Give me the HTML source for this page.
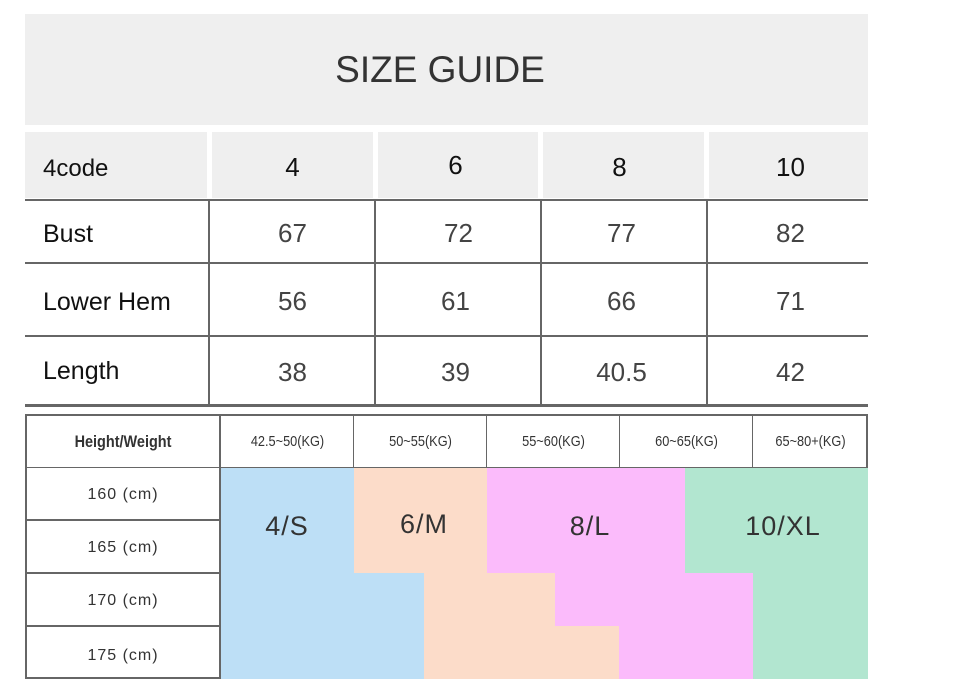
<!DOCTYPE html><html><head><style>
body{margin:0;width:954px;height:694px;background:#fff;position:relative;overflow:hidden;font-family:"Liberation Sans",sans-serif;color:#222}
div{position:absolute;box-sizing:border-box}
.t{text-align:center;white-space:nowrap}
.h{background:#efefef}
.l{background:#666}
.c{transform:scaleX(0.85)}
</style></head><body>
<div class="h" style="left:25px;top:14px;width:843px;height:111px"></div>
<div class="t" style="left:25px;top:14px;width:830px;height:111px;line-height:111px;font-size:37px;color:#333">SIZE GUIDE</div>
<div class="h" style="left:25px;top:132px;width:182px;height:66px"></div>
<div class="h" style="left:212px;top:132px;width:161px;height:66px"></div>
<div class="h" style="left:378px;top:132px;width:160px;height:66px"></div>
<div class="h" style="left:543px;top:132px;width:161px;height:66px"></div>
<div class="h" style="left:709px;top:132px;width:159px;height:66px"></div>
<div class="l" style="left:25px;top:199px;width:843px;height:2px"></div>
<div class="l" style="left:25px;top:262px;width:843px;height:2px"></div>
<div class="l" style="left:25px;top:335px;width:843px;height:2px"></div>
<div class="l" style="left:25px;top:404px;width:843px;height:3px"></div>
<div class="l" style="left:208px;top:200px;width:2px;height:205px"></div>
<div class="l" style="left:374px;top:200px;width:2px;height:205px"></div>
<div class="l" style="left:540px;top:200px;width:2px;height:205px"></div>
<div class="l" style="left:706px;top:200px;width:2px;height:205px"></div>
<div style="left:43px;top:155px;font-size:24px;color:#111">4code</div>
<div style="left:43px;top:220px;font-size:25px;color:#111">Bust</div>
<div style="left:43px;top:288px;font-size:25px;color:#111">Lower Hem</div>
<div style="left:43px;top:357px;font-size:25px;color:#111">Length</div>
<div class="t" style="left:210px;top:152px;width:165px;font-size:26px;color:#111">4</div>
<div class="t" style="left:373px;top:150px;width:165px;font-size:26px;color:#111">6</div>
<div class="t" style="left:537px;top:152px;width:165px;font-size:26px;color:#111">8</div>
<div class="t" style="left:708px;top:152px;width:165px;font-size:26px;color:#111">10</div>
<div class="t" style="left:210px;top:218px;width:165px;font-size:26px;color:#444">67</div>
<div class="t" style="left:376px;top:218px;width:165px;font-size:26px;color:#444">72</div>
<div class="t" style="left:539px;top:218px;width:165px;font-size:26px;color:#444">77</div>
<div class="t" style="left:708px;top:218px;width:165px;font-size:26px;color:#444">82</div>
<div class="t" style="left:210px;top:286px;width:165px;font-size:26px;color:#444">56</div>
<div class="t" style="left:373px;top:286px;width:165px;font-size:26px;color:#444">61</div>
<div class="t" style="left:539px;top:286px;width:165px;font-size:26px;color:#444">66</div>
<div class="t" style="left:708px;top:286px;width:165px;font-size:26px;color:#444">71</div>
<div class="t" style="left:210px;top:357px;width:165px;font-size:26px;color:#444">38</div>
<div class="t" style="left:373px;top:357px;width:165px;font-size:26px;color:#444">39</div>
<div class="t" style="left:539px;top:357px;width:165px;font-size:26px;color:#444">40.5</div>
<div class="t" style="left:708px;top:357px;width:165px;font-size:26px;color:#444">42</div>

<div style="left:221px;top:467px;width:133px;height:212px;background:#bddff6"></div>
<div style="left:354px;top:467px;width:133px;height:106px;background:#fcdcc9"></div>
<div style="left:487px;top:467px;width:198px;height:106px;background:#fbbbfb"></div>
<div style="left:685px;top:467px;width:183px;height:106px;background:#b2e6d0"></div>
<div style="left:354px;top:573px;width:70px;height:106px;background:#bddff6"></div>
<div style="left:424px;top:573px;width:131px;height:53px;background:#fcdcc9"></div>
<div style="left:424px;top:626px;width:195px;height:53px;background:#fcdcc9"></div>
<div style="left:555px;top:573px;width:198px;height:53px;background:#fbbbfb"></div>
<div style="left:619px;top:626px;width:134px;height:53px;background:#fbbbfb"></div>
<div style="left:753px;top:573px;width:115px;height:106px;background:#b2e6d0"></div>
<div style="left:25px;top:414px;width:843px;height:54px;border:2px solid #666;border-bottom:1px solid #666"></div>
<div style="left:25px;top:414px;width:196px;height:265px;border:2px solid #666"></div>
<div class="l" style="left:25px;top:519px;width:196px;height:2px"></div>
<div class="l" style="left:25px;top:572px;width:196px;height:2px"></div>
<div class="l" style="left:25px;top:625px;width:196px;height:2px"></div>
<div class="l" style="left:353px;top:414px;width:1px;height:53px"></div>
<div class="l" style="left:486px;top:414px;width:1px;height:53px"></div>
<div class="l" style="left:619px;top:414px;width:1px;height:53px"></div>
<div class="l" style="left:752px;top:414px;width:1px;height:53px"></div>
<div class="t c" style="left:25px;top:432px;width:196px;font-size:17px;color:#333;font-weight:bold">Height/Weight</div>
<div class="t c" style="left:221px;top:433px;width:133px;font-size:15px;color:#333">42.5~50(KG)</div>
<div class="t c" style="left:354px;top:433px;width:133px;font-size:15px;color:#333">50~55(KG)</div>
<div class="t c" style="left:487px;top:433px;width:133px;font-size:15px;color:#333">55~60(KG)</div>
<div class="t c" style="left:620px;top:433px;width:133px;font-size:15px;color:#333">60~65(KG)</div>
<div class="t c" style="left:753px;top:433px;width:115px;font-size:15px;color:#333">65~80+(KG)</div>
<div class="t" style="left:25px;top:486px;width:196px;font-size:16px;color:#333;letter-spacing:1px">160 (cm)</div>
<div class="t" style="left:25px;top:539px;width:196px;font-size:16px;color:#333;letter-spacing:1px">165 (cm)</div>
<div class="t" style="left:25px;top:592px;width:196px;font-size:16px;color:#333;letter-spacing:1px">170 (cm)</div>
<div class="t" style="left:25px;top:647px;width:196px;font-size:16px;color:#333;letter-spacing:1px">175 (cm)</div>
<div class="t" style="left:237px;top:511px;width:100px;font-size:27px;color:#333;letter-spacing:1px">4/S</div>
<div class="t" style="left:374px;top:509px;width:100px;font-size:27px;color:#333;letter-spacing:1px">6/M</div>
<div class="t" style="left:540px;top:511px;width:100px;font-size:27px;color:#333;letter-spacing:1px">8/L</div>
<div class="t" style="left:723px;top:511px;width:120px;font-size:27px;color:#333;letter-spacing:1px">10/XL</div>
</body></html>
